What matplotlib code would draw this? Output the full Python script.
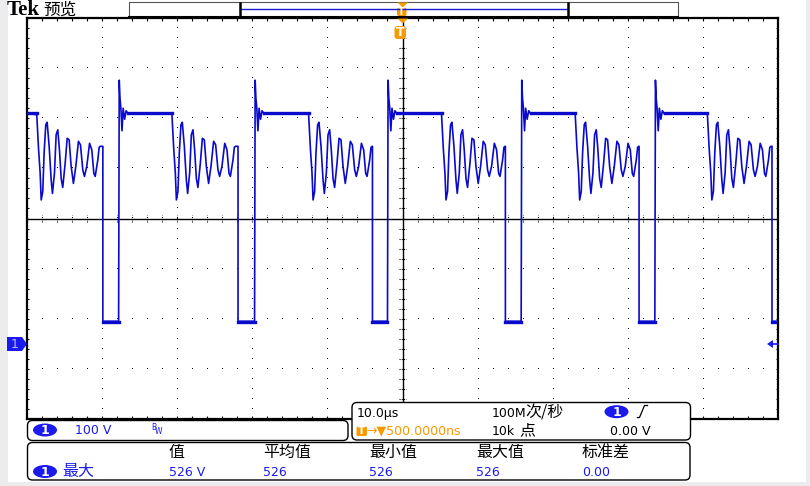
import numpy as np
import matplotlib
matplotlib.use("Agg")
from matplotlib import pyplot as plt
from matplotlib.patches import FancyBboxPatch, Ellipse, Polygon, Rectangle

plt.rcParams['font.family'] = ['DejaVu Sans', 'Noto Sans CJK SC']

# 波形数据 (时间单位 us, 电压单位 V), 从截图读取
fall_us = [-39.9, -21.9, -4.0, 13.7, 31.5, 49.2]
rise_us = [-37.8, -19.7, -2.0, 15.8, 33.6]
plateau_end_us = [-48.7, -30.7, -12.5, 5.2, 23.0, 40.6]
plat_v = 460
low_v = 45

# 平台结束后的振铃 (相对平台结束时间)
ring_dt = [0.0, 0.23, 0.45, 0.59, 0.8, 0.98, 1.2, 1.38, 1.65, 1.92, 2.09, 2.36, 2.58, 2.8,
           3.02, 3.25, 3.46, 3.78, 4.05, 4.31, 4.58, 4.88, 5.2, 5.55, 5.82, 6.13, 6.35,
           6.66, 7.03, 7.33, 7.6, 7.78, 8.13, 8.31, 8.45]
ring_v = [457, 391, 341, 287, 304, 381, 437, 442, 394, 327, 300, 341, 417, 427,
          387, 330, 312, 360, 410, 407, 354, 320, 354, 404, 397, 347, 334,
          354, 400, 387, 340, 334, 367, 392, 394]

# 上升沿过冲 (相对上升时间)
spike_dt = [0.0, 0.08, 0.18, 0.3, 0.45, 0.6, 0.8, 1.0, 1.3]
spike_v = [45, 526, 490, 470, 425, 470, 448, 465, 458]

# 测量信息
meas_head = ["值", "平均值", "最小值", "最大值", "标准差"]
meas_vals = ["526 V", "526", "526", "526", "0.00"]
meas_x = [169, 263, 369, 476, 582]

blue = '#0a0acc'
ui_blue = '#1a1aee'
orange = '#f79a00'

# 拼出波形
t_pts, v_pts = [-50.0], [plat_v]
plat_segs = [(-50.0, plateau_end_us[0])]
low_segs = []
for i, tf in enumerate(fall_us):
    pe = plateau_end_us[i]
    for dt, v in zip(ring_dt, ring_v):
        if pe + dt < tf:
            t_pts.append(pe + dt)
            v_pts.append(v)
    t_pts += [tf, tf]
    v_pts += [v_pts[-1], low_v]
    if i < len(rise_us):
        tr = rise_us[i]
        for dt, v in zip(spike_dt, spike_v):
            t_pts.append(tr + dt)
            v_pts.append(v)
        t_pts.append(plateau_end_us[i + 1])
        v_pts.append(plat_v)
        low_segs.append((tf, tr))
        plat_segs.append((tr + spike_dt[-1], plateau_end_us[i + 1]))
    else:
        t_pts.append(50.0)
        v_pts.append(low_v)
        low_segs.append((tf, 50.0))

fig = plt.figure(figsize=(8.1, 4.86), dpi=100)
fig.patch.set_facecolor('white')

# 示波器格子区域
ax = fig.add_axes([27/810, 1-419/486, 751/810, 401/486])
ax.set_xlim(-50, 50)
ax.set_ylim(-150, 650)
ax.set_xticks([])
ax.set_yticks([])
for s in ax.spines.values():
    s.set_linewidth(1.6)
    s.set_color('black')

# 点状网格
minor_x = np.arange(-50, 50.01, 2)
minor_y = np.arange(-150, 650.01, 20)
for gx in range(-40, 50, 10):
    if gx != 0:
        ax.plot(np.full(len(minor_y), gx), minor_y, ',', color='k')
for gy in range(-50, 650, 100):
    if gy != 250:
        ax.plot(minor_x, np.full(len(minor_x), gy), ',', color='k')
# 中心十字
ax.axhline(250, color='k', lw=1.0)
ax.axvline(0, color='k', lw=1.0)
ax.vlines(minor_x, 244, 256, color='k', lw=0.8, linestyles=(0, (1, 1)))
ax.hlines(minor_y, -0.4, 0.4, color='k', lw=0.8, linestyles=(0, (1, 1)))
# 边框刻度
ax.vlines(minor_x, 645, 650, color='k', lw=0.8)
ax.vlines(minor_x, -150, -145, color='k', lw=0.8)
ax.hlines(minor_y, -50, -49.7, color='k', lw=0.8)
ax.hlines(minor_y, 49.7, 50, color='k', lw=0.8)

# 波形
ax.plot(t_pts, v_pts, color=blue, lw=1.2, zorder=3)
for a, b in plat_segs:
    ax.plot([a, b], [plat_v, plat_v], color=blue, lw=2.4, zorder=3)
for a, b in low_segs:
    ax.plot([a, b], [low_v - 2, low_v - 2], color=blue, lw=2.4, zorder=3)

# 覆盖层, 用像素坐标画界面元素
ov = fig.add_axes([0, 0, 1, 1], zorder=10)
ov.set_xlim(0, 810)
ov.set_ylim(486, 0)
ov.axis('off')
ov.patch.set_alpha(0)

ov.add_patch(Rectangle((0, 0), 7.5, 486, color='#ececee', lw=0))
ov.add_patch(Rectangle((806, 0), 4, 486, color='#ececee', lw=0))
ov.add_patch(Rectangle((0, 482), 810, 4, color='#ececee', lw=0))

ov.text(7, 10, "Tek", fontsize=15, fontweight='bold', family='Liberation Serif', va='center', ha='left')
ov.text(43, 10, "预览", fontsize=12, family='Noto Sans CJK SC', va='center', ha='left')

# 记录条
ov.add_patch(Rectangle((128.5, 2.5), 549, 15, fill=False, ec='#555555', lw=0.8))
ov.plot([128.5, 677.5], [17.3, 17.3], color='k', lw=1.5)
ov.plot([240, 568], [9.3, 9.3], color='#1a1ad0', lw=1.0)
for bx in [240, 568]:
    ov.plot([bx, bx], [3, 17], color='k', lw=1.8)
# 触发位置标记
for ty in [2.5, 18.5]:
    ov.add_patch(Polygon([[397.5, ty], [408, ty], [402.7, ty + 5]], closed=True, color=orange, lw=0))
ov.add_patch(FancyBboxPatch((397, 7.5), 9.5, 8.5, boxstyle="round,pad=0,rounding_size=2", color=orange, lw=0))
ov.text(401.7, 11.8, "T", color='white', fontsize=7, fontweight='bold', ha='center', va='center')
ov.add_patch(FancyBboxPatch((394.5, 26), 11.5, 13, boxstyle="round,pad=0,rounding_size=3", color=orange, lw=0))
ov.text(400.2, 32.5, "T", color='white', fontsize=9, fontweight='bold', ha='center', va='center')

# 通道1 地线标记
ov.add_patch(Polygon([[7, 337], [22, 337], [27, 344], [22, 351], [7, 351]], closed=True, color=ui_blue, lw=0))
ov.text(15, 344.5, "1", color='#b8b8e8', fontsize=9, ha='center', va='center')
# 触发电平标记
ov.add_patch(Polygon([[767, 344], [773, 340], [773, 348]], closed=True, color=ui_blue, lw=0))
ov.plot([772, 778], [344, 344], color=ui_blue, lw=1.2)


def badge(x, y):
    ov.add_patch(Ellipse((x, y), 24, 13, color=ui_blue, lw=0))
    ov.text(x, y + 0.5, "1", color='white', fontsize=9, fontweight='bold', ha='center', va='center')


def panel(x0, y0, x1, y1):
    ov.add_patch(FancyBboxPatch((x0, y0), x1 - x0, y1 - y0, boxstyle="round,pad=0,rounding_size=5",
                                fc='white', ec='black', lw=1.0))


# 通道面板
panel(27.5, 420.5, 348, 440.5)
badge(45, 430)
ov.text(75, 430.5, "100 V", color=ui_blue, fontsize=9, ha='left', va='center')
ov.text(151, 427.5, "B", color=ui_blue, fontsize=5.5, ha='left', va='center')
ov.text(155, 431.5, "W", color=ui_blue, fontsize=5.5, ha='left', va='center')

# 时基面板
panel(352, 402.5, 690.5, 440)
ov.text(356.5, 413, "10.0µs", fontsize=9, ha='left', va='center')
ov.add_patch(FancyBboxPatch((356.5, 426.5), 10.5, 9.5, boxstyle="round,pad=0,rounding_size=1.5", color=orange, lw=0))
ov.text(361.7, 431.3, "T", color='white', fontsize=7.5, fontweight='bold', ha='center', va='center')
ov.text(366.5, 431, "→▼500.0000ns", color=orange, fontsize=9, ha='left', va='center')
ov.text(491.5, 413, "100M", fontsize=9, ha='left', va='center')
ov.text(525, 413, "次/秒", fontsize=11.5, family='Noto Sans CJK SC', ha='left', va='center')
ov.text(491.5, 431, "10k", fontsize=9, ha='left', va='center')
ov.text(519, 431, "点", fontsize=11.5, family='Noto Sans CJK SC', ha='left', va='center')
badge(616.5, 411.7)
ov.plot([637.5, 639.5, 644.5, 647.5], [417.5, 417.5, 405.5, 405.5], color='black', lw=0.9)
ov.text(610.5, 431.5, "0.00 V", fontsize=9, ha='left', va='center')

# 测量面板
panel(27.5, 442.5, 690, 480)
badge(45, 471.5)
ov.text(62, 471, "最大", color=ui_blue, fontsize=11.5, family='Noto Sans CJK SC', ha='left', va='center')
for hx, h, v in zip(meas_x, meas_head, meas_vals):
    ov.text(hx, 452.5, h, fontsize=11.5, family='Noto Sans CJK SC', ha='left', va='center')
    ov.text(hx, 472, v, color=ui_blue, fontsize=9, ha='left', va='center')

plt.savefig("out.png", dpi=100)
